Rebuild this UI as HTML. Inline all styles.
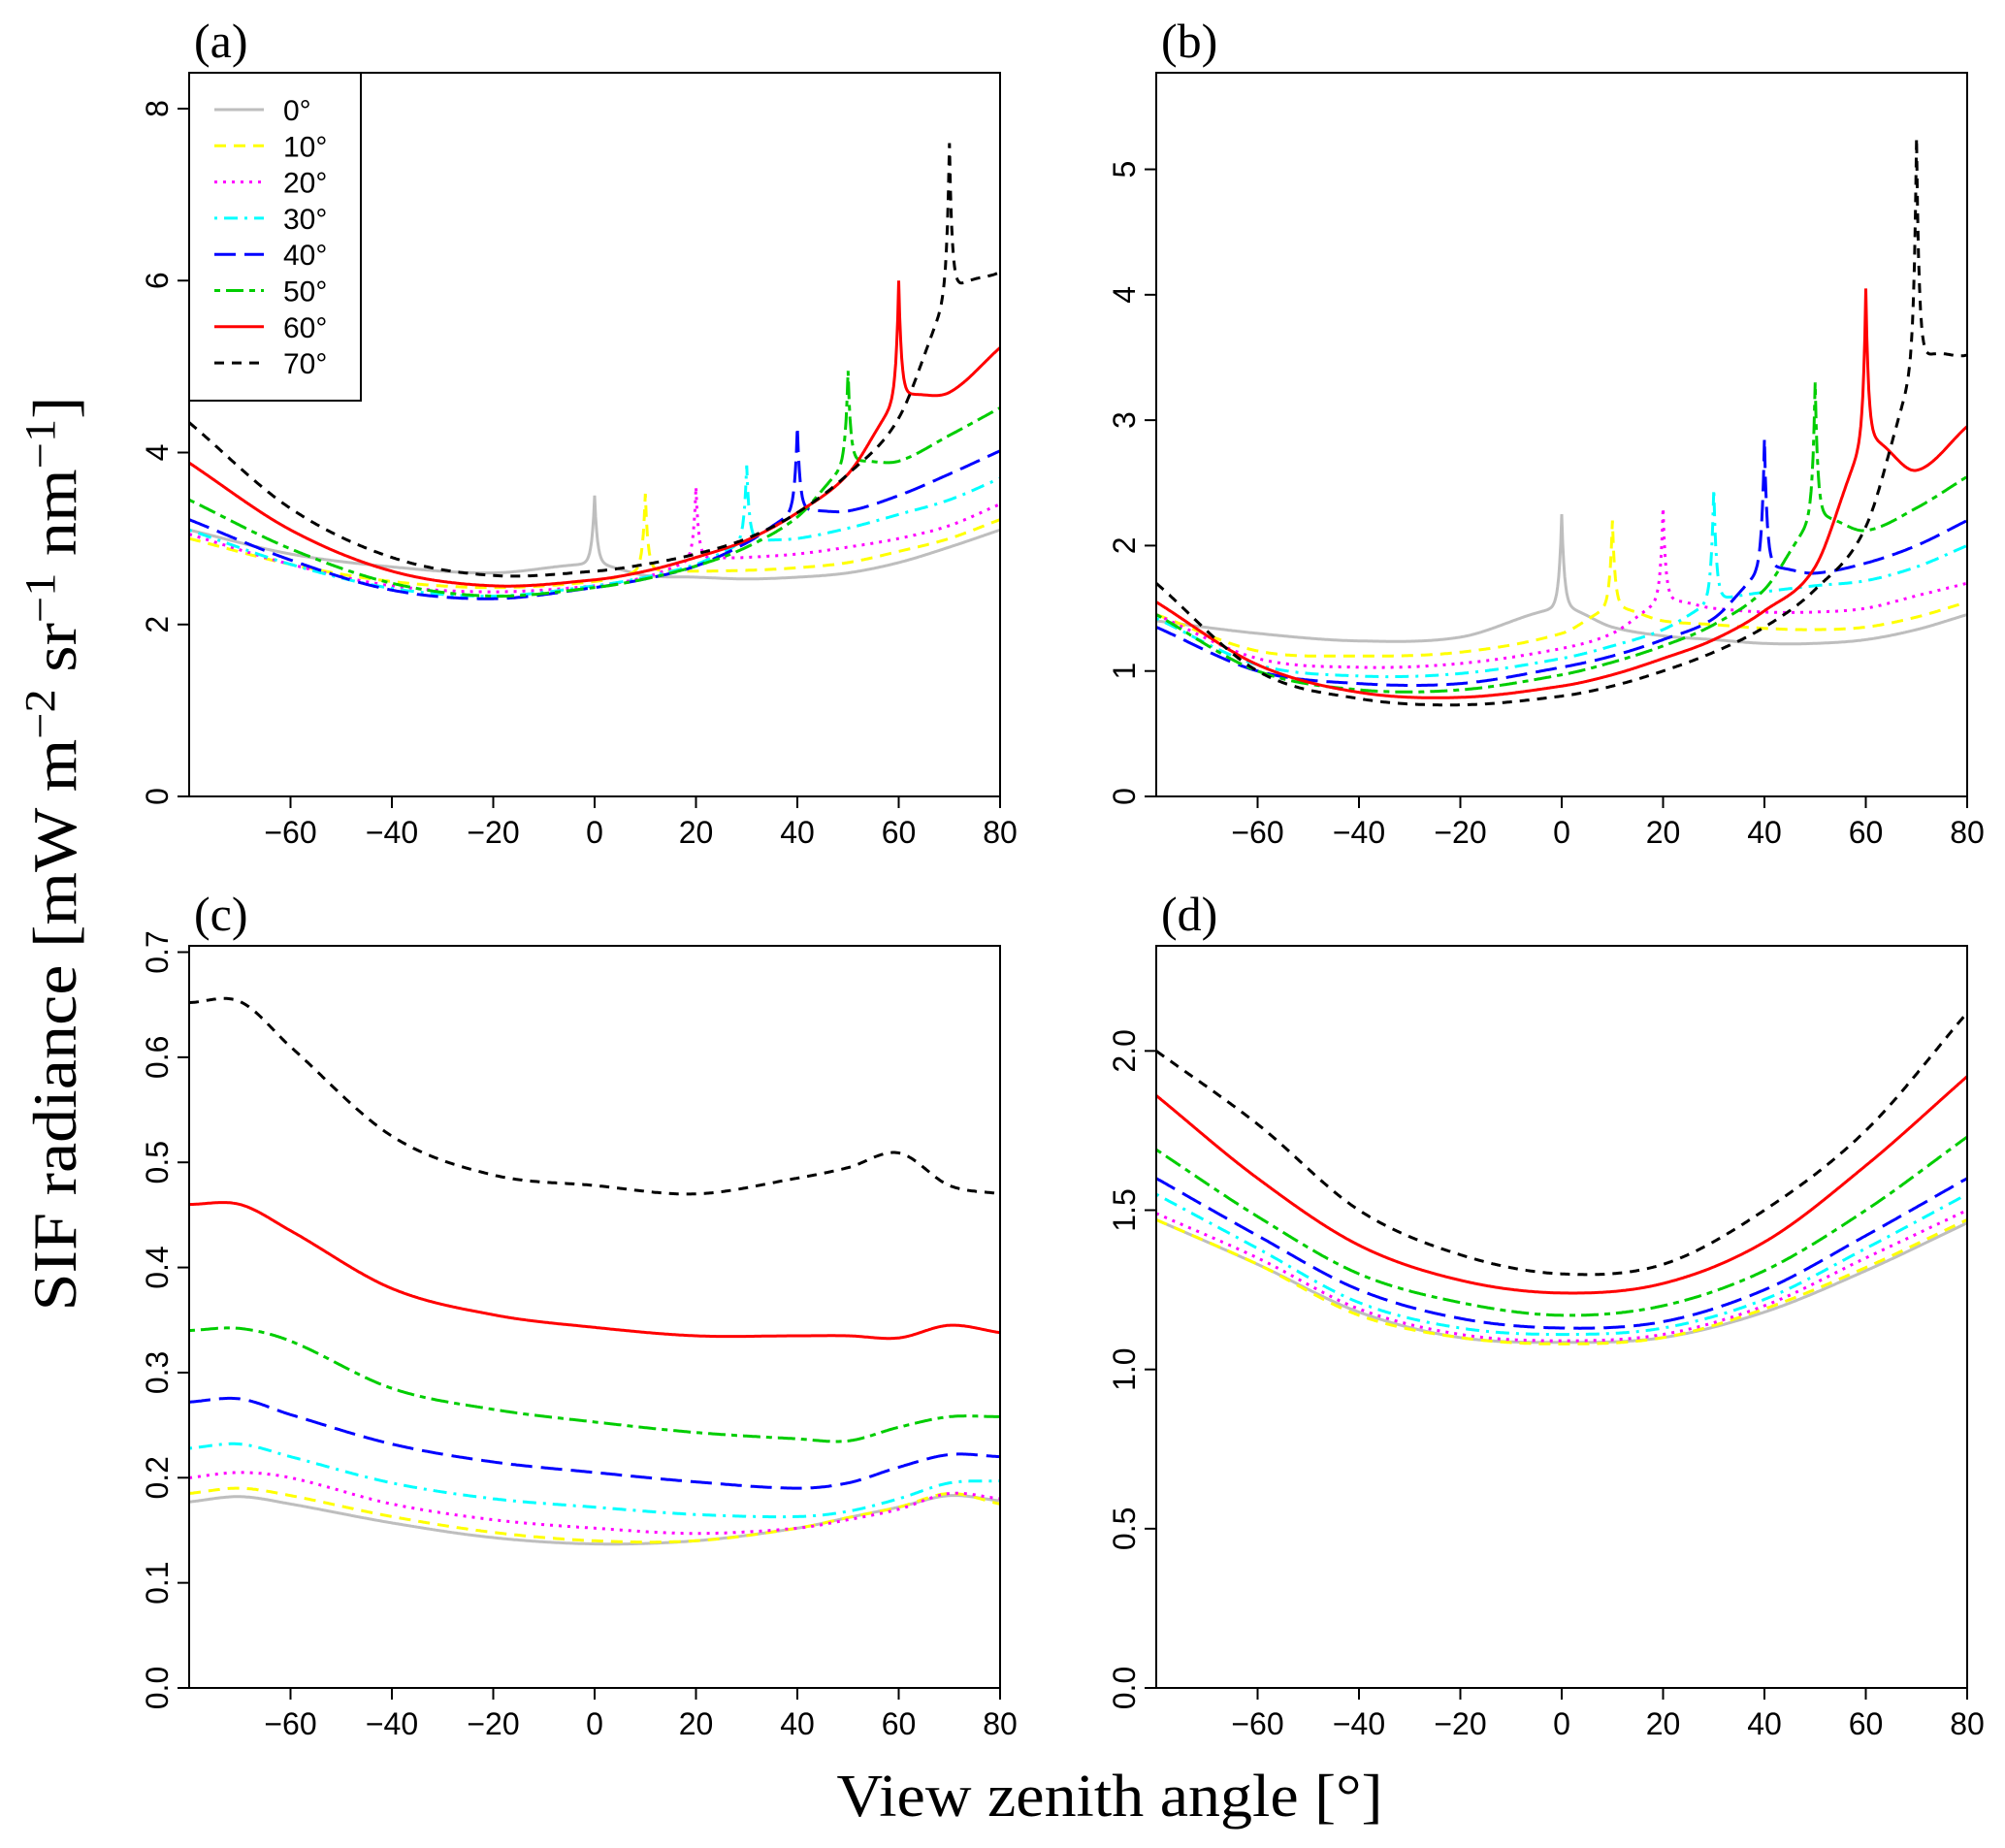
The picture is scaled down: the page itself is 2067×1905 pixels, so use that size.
<!DOCTYPE html>
<html><head><meta charset="utf-8"><style>
html,body{margin:0;padding:0;background:#fff;}
svg{display:block;}
</style></head><body>
<svg id="fig" width="2067" height="1905" viewBox="0 0 2067 1905" xmlns="http://www.w3.org/2000/svg">
<text transform="translate(78,880) rotate(-90)" text-anchor="middle" font-family="Liberation Serif, serif" font-size="64" textLength="943" lengthAdjust="spacingAndGlyphs">SIF radiance [mW m<tspan dy="-22" font-size="44">−2</tspan><tspan dy="22"> sr</tspan><tspan dy="-22" font-size="44">−1</tspan><tspan dy="22"> nm</tspan><tspan dy="-22" font-size="44">−1</tspan><tspan dy="22">]</tspan></text>
<text x="1144" y="1872" text-anchor="middle" font-family="Liberation Serif, serif" font-size="62" textLength="563" lengthAdjust="spacingAndGlyphs">View zenith angle [°]</text>
</svg>
<script>
// ---- data ----
const names = ['0°','10°','20°','30°','40°','50°','60°','70°'];
const colors = ['#bebebe','#ffff00','#ff00ff','#00ffff','#0000ff','#00cd00','#ff0000','#000000'];
const xTicks = [-60,-40,-20,0,20,40,60,80];
const spikeX = [0,10,20,30,40,50,60,70];

const xA = [-80,-60,-40,-20,0,10,20,30,40,50,60,70,80];
const a0 = [3.1,2.82,2.67,2.6,2.7,2.57,2.55,2.53,2.55,2.6,2.72,2.9,3.1];
const a1 = [3.0,2.7,2.5,2.43,2.5,2.62,2.62,2.63,2.66,2.72,2.85,3.0,3.22];
const a2 = [3.05,2.7,2.45,2.38,2.45,2.55,2.75,2.78,2.82,2.9,3.0,3.15,3.4];
const a3 = [3.1,2.7,2.42,2.33,2.45,2.55,2.7,2.95,3.0,3.12,3.28,3.45,3.7];
const a4 = [3.22,2.75,2.4,2.3,2.43,2.53,2.68,2.95,3.3,3.32,3.5,3.75,4.02];
const a5 = [3.45,2.88,2.48,2.33,2.43,2.53,2.68,2.9,3.25,3.85,3.9,4.2,4.52];
const a6 = [3.88,3.1,2.62,2.45,2.52,2.62,2.78,2.98,3.3,3.75,4.6,4.7,5.22];
const a7 = [4.35,3.35,2.78,2.57,2.62,2.7,2.82,3.0,3.3,3.75,4.4,5.8,6.1];
const aSpike = [0.8,0.9,0.85,0.9,1.0,1.1,1.4,1.8];
const aTicks = [0,2,4,6,8];

const b0 = [1.4,1.3,1.24,1.27,1.5,1.35,1.28,1.25,1.22,1.22,1.25,1.33,1.45];
const b1 = [1.45,1.16,1.12,1.15,1.3,1.5,1.4,1.37,1.34,1.33,1.35,1.43,1.55];
const b2 = [1.45,1.1,1.03,1.06,1.18,1.3,1.55,1.5,1.47,1.47,1.5,1.6,1.7];
const b3 = [1.42,1.05,0.96,0.98,1.1,1.2,1.33,1.55,1.63,1.68,1.72,1.83,2.0];
const b4 = [1.35,1.0,0.9,0.9,1.03,1.12,1.25,1.42,1.8,1.78,1.86,2.0,2.2];
const b5 = [1.45,1.0,0.85,0.85,0.97,1.07,1.2,1.37,1.65,2.2,2.12,2.3,2.55];
const b6 = [1.55,1.05,0.83,0.79,0.88,0.97,1.1,1.25,1.48,1.83,2.8,2.6,2.95];
const b7 = [1.7,1.0,0.78,0.73,0.8,0.88,1.0,1.15,1.35,1.65,2.15,3.4,3.52];
const bSpike = [0.75,0.7,0.75,0.9,1.05,1.1,1.25,1.85];
const bTicks = [0,1,2,3,4,5];

const xC = [-80,-70,-60,-40,-20,0,20,40,50,60,70,80];
const c0 = [0.177,0.182,0.175,0.157,0.143,0.137,0.14,0.152,0.162,0.172,0.183,0.178];
const c1 = [0.185,0.19,0.183,0.163,0.148,0.14,0.14,0.152,0.162,0.172,0.185,0.175];
const c2 = [0.2,0.205,0.2,0.175,0.16,0.152,0.147,0.152,0.16,0.17,0.185,0.18];
const c3 = [0.228,0.232,0.22,0.195,0.18,0.172,0.165,0.163,0.168,0.18,0.195,0.197];
const c4 = [0.272,0.275,0.26,0.232,0.215,0.205,0.196,0.19,0.195,0.21,0.222,0.22];
const c5 = [0.34,0.342,0.33,0.285,0.265,0.253,0.243,0.237,0.235,0.248,0.258,0.258];
const c6 = [0.46,0.46,0.435,0.38,0.355,0.343,0.335,0.335,0.335,0.333,0.345,0.338];
const c7 = [0.652,0.653,0.61,0.525,0.488,0.478,0.47,0.485,0.495,0.509,0.478,0.47];
const cTicks = [0,0.1,0.2,0.3,0.4,0.5,0.6,0.7];

const xD = [-80,-60,-40,-20,0,20,40,60,80];
const d0 = [1.47,1.33,1.18,1.1,1.085,1.1,1.18,1.31,1.46];
const d1 = [1.47,1.33,1.17,1.1,1.08,1.1,1.19,1.32,1.47];
const d2 = [1.49,1.35,1.19,1.11,1.09,1.11,1.2,1.35,1.5];
const d3 = [1.55,1.38,1.21,1.13,1.11,1.13,1.22,1.38,1.55];
const d4 = [1.6,1.42,1.25,1.16,1.13,1.15,1.25,1.42,1.6];
const d5 = [1.69,1.48,1.3,1.21,1.17,1.2,1.31,1.5,1.73];
const d6 = [1.86,1.6,1.39,1.28,1.24,1.27,1.4,1.64,1.92];
const d7 = [2.0,1.77,1.5,1.36,1.3,1.33,1.5,1.75,2.12];
const dTicks = [0,0.5,1,1.5,2];

// ---- drawing ----
const NS='http://www.w3.org/2000/svg';
const svg=document.getElementById('fig');
const dashes=['', '12 8', '3 6', '3 7 14 7', '22 9', '6 6 18 6', '', '10 8'];
function el(tag,attrs,parent){const e=document.createElementNS(NS,tag);for(const k in attrs)e.setAttribute(k,attrs[k]);(parent||svg).appendChild(e);return e;}
function spline(xs,ys,x){
  let i=0;while(i<xs.length-2&&x>xs[i+1])i++;
  const x0=xs[i],x1=xs[i+1],y0=ys[i],y1=ys[i+1];
  const m=(k)=>{if(k<=0)return (ys[1]-ys[0])/(xs[1]-xs[0]);if(k>=xs.length-1)return (ys[k]-ys[k-1])/(xs[k]-xs[k-1]);return (ys[k+1]-ys[k-1])/(xs[k+1]-xs[k-1]);};
  const h=x1-x0,t=(x-x0)/h,t2=t*t,t3=t2*t;
  return (2*t3-3*t2+1)*y0+(t3-2*t2+t)*h*m(i)+(-2*t3+3*t2)*y1+(t3-t2)*h*m(i+1);
}
function panel(id,label,L,R,T,B,ymax,ticks,tickFmt,xs,series,spikes){
  const g=el('g',{});
  
  
  const sx=v=>L+(v+80)/160*(R-L), sy=v=>B-v/ymax*(B-T);
  const cp=el('clipPath',{id:'clip'+id},g);el('rect',{x:L,y:T,width:R-L,height:B-T},cp);
  const lab=el('text',{x:L+5,y:T-16,'font-family':'Liberation Serif, serif','font-size':'50'},g);lab.textContent=label;
  
  
  xTicks.forEach(v=>{el('line',{x1:sx(v),x2:sx(v),y1:B,y2:B+12,stroke:'#000','stroke-width':2},g);
    const t=el('text',{x:sx(v),y:B+48,'text-anchor':'middle','font-family':'Liberation Sans, sans-serif','font-size':'32'},g);t.textContent=String(v).replace('-','−');
    
    });
  ticks.forEach(v=>{el('line',{x1:L-12,x2:L,y1:sy(v),y2:sy(v),stroke:'#000','stroke-width':2},g);
    const t=el('text',{transform:`translate(${L-22},${sy(v)}) rotate(-90)`,'text-anchor':'middle','font-family':'Liberation Sans, sans-serif','font-size':'32'},g);t.textContent=tickFmt(v);
    
    });
  series.forEach((ys,si)=>{
    let d='';
    for(let x=-80;x<=80.001;x+=0.2){
      let v=spline(xs,ys,x);
      if(spikes){const s=spikeX[si];v+=spikes[si]*Math.exp(-Math.abs(x-s)/0.55);}
      d+=(d?'L':'M')+sx(x).toFixed(1)+','+sy(v).toFixed(1);
    }
    const p=el('path',{d:d,fill:'none',stroke:colors[si],'stroke-width':3,'stroke-dasharray':dashes[si],'clip-path':`url(#clip${id})`},g);
    
    
  });
  const box=el('rect',{x:L,y:T,width:R-L,height:B-T,fill:'none',stroke:'#000','stroke-width':2},g);
  
  
  return {g,sx,sy};
}
const f0=v=>String(v), f1=v=>v.toFixed(1);
const L1=195,R1=1031,L2=1192,R2=2028,T1=75,B1=821,T2=975,B2=1740;
panel('a','(a)',L1,R1,T1,B1,8*(821-75)/(821-112),aTicks,f0,xA,[a0,a1,a2,a3,a4,a5,a6,a7],aSpike);
panel('b','(b)',L2,R2,T1,B1,5.77,bTicks,f0,xA,[b0,b1,b2,b3,b4,b5,b6,b7],bSpike);
panel('c','(c)',L1,R1,T2,B2,0.706,cTicks,f1,xC,[c0,c1,c2,c3,c4,c5,c6,c7],null);
panel('d','(d)',L2,R2,T2,B2,2.33,dTicks,f1,xD,[d0,d1,d2,d3,d4,d5,d6,d7],null);
// legend
const lg=el('g',{});


el('rect',{x:L1,y:T1,width:177,height:338,fill:'#fff',stroke:'#000','stroke-width':2},lg);
names.forEach((n,i)=>{
  const y=T1+38+i*37.3;
  const e=el('g',{},lg);
  
  
  el('line',{x1:221,x2:272,y1:y,y2:y,stroke:colors[i],'stroke-width':3,'stroke-dasharray':dashes[i]},e);
  const t=el('text',{x:292,y:y+11,'font-family':'Liberation Sans, sans-serif','font-size':'30'},e);t.textContent=n;
});
</script>
</body></html>
